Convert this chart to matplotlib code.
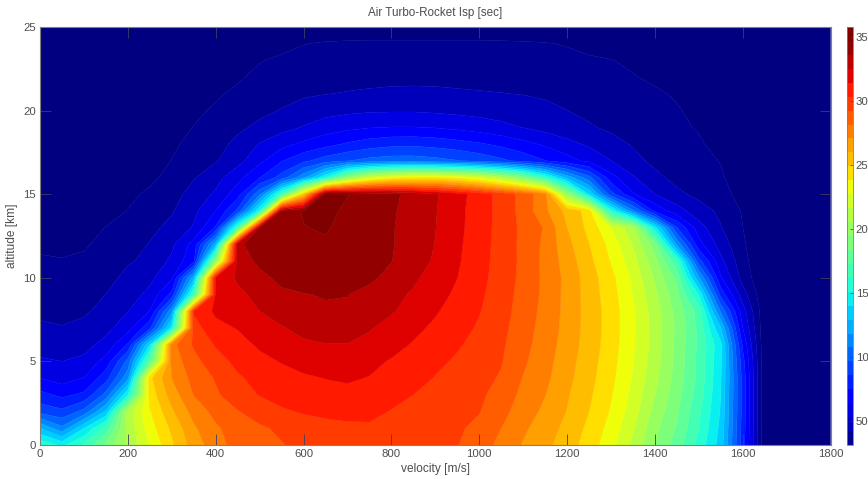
import numpy as np
import matplotlib
matplotlib.use("Agg")
import matplotlib.pyplot as plt

plt.rcParams['font.family'] = ['Liberation Sans', 'DejaVu Sans']

velocity = list(range(0, 1801, 50))
altitude = list(range(0, 26))

# Isp, one list per altitude [km], one value per velocity
isp_0 = [1600,1480,1630,1860,2070,2280,2470,2650,2770,2860,2895,2920,2955,2980,2990,2995,2990,2975,2955,2930,2870,2785,2700,2630,2540,2441,2310,2140,1945,1785,1580,1350,800,230,80,40,0]
isp_1 = [1291,1100,1400,1660,2090,2330,2510,2690,2800,2870,2910,2945,2980,3000,3015,3020,3010,2990,2970,2940,2901,2817,2726,2655,2566,2464,2340,2178,1976,1823,1618,1370,810,230,80,40,0]
isp_2 = [925,880,1000,1310,2100,2370,2580,2750,2850,2920,2975,3020,3045,3060,3065,3060,3030,3005,2985,2960,2931,2853,2763,2684,2595,2490,2370,2217,2017,1852,1640,1390,820,230,80,40,0]
isp_3 = [780,720,770,1000,1500,2420,2650,2820,2910,2985,3040,3075,3100,3115,3120,3105,3070,3035,3000,2972,2944,2888,2786,2711,2611,2509,2391,2240,2056,1879,1673,1400,820,230,80,40,0]
isp_4 = [637,590,640,810,1150,2460,2710,2855,2935,3022,3065,3105,3130,3146,3155,3140,3110,3075,3030,2995,2958,2916,2812,2734,2631,2526,2410,2264,2086,1902,1695,1410,820,230,80,40,0]
isp_5 = [545,528,550,680,1000,1750,2750,2890,2995,3060,3115,3150,3180,3195,3195,3170,3135,3095,3060,3020,2975,2933,2835,2750,2644,2538,2423,2275,2104,1910,1695,1420,790,230,80,40,0]
isp_6 = [480,470,495,560,760,1400,2780,2940,3045,3105,3160,3205,3235,3250,3250,3225,3180,3135,3092,3048,2998,2945,2852,2763,2661,2550,2436,2288,2120,1915,1706,1430,730,230,80,40,0]
isp_7 = [435,424,445,498,590,830,1450,2990,3110,3150,3215,3245,3285,3300,3295,3262,3217,3170,3124,3075,3022,2958,2865,2775,2670,2555,2442,2290,2116,1924,1700,1300,640,230,80,40,0]
isp_8 = [400,390,405,450,525,640,1150,3045,3165,3190,3253,3300,3335,3350,3345,3320,3264,3210,3155,3098,3041,2970,2877,2783,2675,2555,2442,2290,2110,1907,1680,1060,580,230,80,40,0]
isp_9 = [372,360,380,420,470,560,780,1650,3155,3230,3285,3345,3358,3368,3365,3327,3285,3240,3184,3124,3055,2980,2887,2791,2676,2550,2429,2270,2080,1868,1500,820,470,220,80,40,0]
isp_10 = [345,335,350,375,455,500,620,1250,3165,3270,3335,3385,3405,3420,3415,3385,3328,3272,3209,3145,3068,2989,2895,2793,2676,2545,2414,2250,2040,1805,1200,650,380,210,80,40,0]
isp_11 = [320,316,325,355,405,450,550,720,1950,3305,3385,3425,3450,3455,3437,3400,3365,3301,3240,3158,3076,2993,2900,2786,2660,2520,2373,2207,1982,1650,900,560,350,200,80,40,0]
isp_12 = [295,285,300,335,370,425,505,680,1250,3345,3405,3435,3455,3460,3445,3412,3370,3315,3250,3165,3082,2995,2898,2793,2633,2492,2345,2155,1890,1160,680,480,330,190,80,40,0]
isp_13 = [270,258,278,312,340,395,445,540,760,1650,3380,3445,3468,3480,3442,3402,3372,3310,3256,3175,3085,2998,2900,2806,2600,2457,2270,2090,1450,860,580,425,312,170,80,40,0]
isp_14 = [245,240,255,285,312,350,410,500,640,880,1520,3400,3480,3495,3455,3415,3378,3315,3260,3175,3090,3000,2886,2730,2565,2445,1560,1100,720,580,460,400,300,160,80,40,0]
isp_15 = [225,220,235,260,292,325,370,465,545,700,1050,1650,2500,3500,3475,3430,3385,3330,3265,3185,3095,2995,2885,2745,2000,1400,900,650,530,440,395,350,270,130,80,40,0]
isp_16 = [205,200,215,235,260,290,340,410,490,600,740,900,1150,1500,1950,2200,2330,2380,2380,2340,2250,2100,1900,1600,1250,1000,680,540,445,390,350,325,240,130,80,40,0]
isp_17 = [190,190,205,220,245,270,312,370,410,490,610,740,830,910,960,1000,1020,1020,1000,970,930,880,820,750,680,610,530,450,395,365,345,305,210,120,70,30,0]
isp_18 = [170,180,190,205,220,245,295,335,375,450,535,600,660,710,760,800,825,830,815,790,760,720,670,620,560,510,455,410,375,345,325,270,200,110,70,30,0]
isp_19 = [160,170,180,190,205,245,280,312,350,395,445,490,535,580,610,630,640,640,630,610,585,555,525,490,460,430,400,375,350,335,300,250,180,100,60,30,0]
isp_20 = [150,160,170,180,190,225,260,295,320,350,390,425,460,490,505,515,518,518,510,500,490,480,465,445,420,395,375,355,335,318,285,235,170,95,60,30,0]
isp_21 = [140,150,160,170,180,195,235,270,300,325,355,380,405,417,425,432,438,440,438,432,427,422,416,405,390,375,358,342,323,300,260,215,155,90,60,30,0]
isp_22 = [130,140,150,160,170,180,205,240,275,300,330,350,370,380,388,392,395,396,395,392,388,382,376,368,358,347,335,315,295,260,225,190,140,85,50,25,0]
isp_23 = [120,130,140,150,160,170,185,210,240,270,305,325,335,342,348,350,352,352,352,350,348,345,340,335,330,322,313,295,265,230,195,165,125,80,50,25,0]
isp_24 = [110,120,130,140,150,155,165,185,210,240,265,285,308,318,322,325,325,325,325,325,325,322,320,315,305,285,270,250,230,200,170,145,110,70,50,25,0]
isp_25 = [100,110,120,130,135,140,150,165,185,205,225,240,250,255,255,255,255,255,255,255,255,255,250,245,240,235,225,215,200,180,150,125,95,60,40,20,0]

isp = np.array([isp_0, isp_1, isp_2, isp_3, isp_4, isp_5, isp_6, isp_7, isp_8, isp_9,
                isp_10, isp_11, isp_12, isp_13, isp_14, isp_15, isp_16, isp_17, isp_18,
                isp_19, isp_20, isp_21, isp_22, isp_23, isp_24, isp_25])

cbar_ticks = [500, 1000, 1500, 2000, 2500, 3000, 3500]
cbar_labels = ['50', '10', '15', '20', '25', '30', '35']

grey = '#808080'
txt = '#4d4d4d'

fig = plt.figure(figsize=(8.68, 4.79), dpi=100)
ax = fig.add_axes([40/868, 34/479, 790.5/868, 418/479])
cax = fig.add_axes([846.5/868, 34/479, 6.5/868, 418/479])

levels = np.concatenate(([-1], np.arange(310, 3590, 109)))
cs = ax.contourf(velocity, altitude, isp, levels=levels, cmap='jet', vmin=310, vmax=3470,
                 antialiased=True)
cs.set_edgecolor('face')
cs.set_linewidth(0.3)

ax.set_xlim(0, 1800)
ax.set_ylim(0, 25)
ax.set_xticks(range(0, 1801, 200))
ax.set_yticks(range(0, 26, 5))
ax.tick_params(direction='in', length=8, width=0.6, color='#404060', top=True, right=True,
               labelsize=8.2, labelcolor=txt, pad=3)
for s in ax.spines.values():
    s.set_color(grey)
    s.set_linewidth(0.8)
ax.set_xlabel('velocity [m/s]', fontsize=8.6, color=txt, labelpad=3)
ax.set_ylabel('altitude [km]', fontsize=8.6, color=txt, labelpad=4)
ax.set_title('Air Turbo-Rocket Isp [sec]', fontsize=8.4, color=txt, pad=8)

cb = fig.colorbar(cs, cax=cax)
cax.set_ylim(310, 3580)
cb.set_ticks(cbar_ticks)
cb.set_ticklabels(cbar_labels)
cax.tick_params(direction='in', length=2, width=0.5, color='#404040', labelsize=8.2, labelcolor=txt, pad=2)
cb.outline.set_edgecolor(grey)
cb.outline.set_linewidth(0.6)

fig.savefig('out.png', dpi=100)
